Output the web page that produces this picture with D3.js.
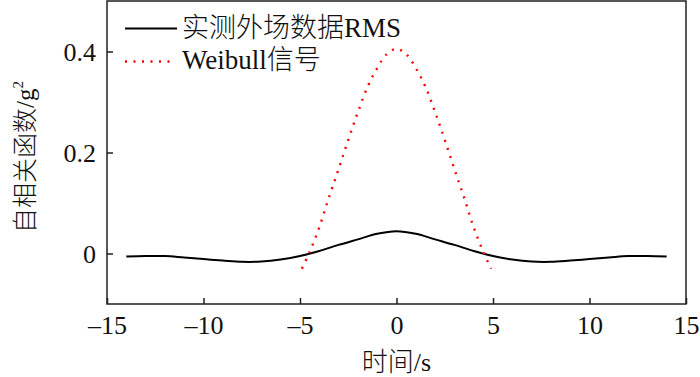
<!DOCTYPE html>
<html><head><meta charset="utf-8">
<script src="https://cdn.jsdelivr.net/npm/d3@7"></script>
<style>body{margin:0;background:#fff;} svg{display:block;}</style>
</head><body>
<svg id="c" width="700" height="377"></svg>
<script>
// Data
const rmsX = [-14,-13,-12,-11,-10,-9,-8,-7,-6,-5,-4,-3,-2,-1,0,1,2,3,4,5,6,7,8,9,10,11,12,13,14];
const rmsY = [-0.006,-0.005,-0.005,-0.008,-0.011,-0.014,-0.0165,-0.016,-0.012,-0.005,0.005,0.017,0.028,0.039,0.044,0.039,0.028,0.017,0.005,-0.005,-0.012,-0.016,-0.0165,-0.014,-0.011,-0.008,-0.005,-0.005,-0.006];
const weibullX = [-4.9,-4.5,-4,-3.5,-3,-2.5,-2,-1.5,-1,-0.5,0,0.5,1,1.5,2,2.5,3,3.5,4,4.5,4.9];
const weibullY = [-0.03,0.003,0.052,0.111,0.167,0.225,0.28,0.33,0.367,0.395,0.405,0.395,0.367,0.33,0.28,0.225,0.167,0.111,0.052,0.003,-0.03];
const xTicks = [-15,-10,-5,0,5,10,15];
const yTicks = [0,0.2,0.4];
const legendLabels = ["实测外场数据RMS","Weibull信号"];
const xTitle = "时间/s";
const yTitle = "自相关函数/g";

const svg = d3.select("#c");
const L=107, R=686, T=1, B=304;
const x = d3.scaleLinear().domain([-15,15]).range([L,R]);
const y = d3.scaleLinear().domain([-0.1,0.5]).range([B,T]);
const serif = "Liberation Serif, DejaVu Serif, serif";
const cjk = "Noto Sans CJK SC, sans-serif";
const axisColor = "#231f20";

// frame
svg.append("rect").attr("x",L).attr("y",T).attr("width",R-L).attr("height",B-T)
  .attr("fill","none").attr("stroke",axisColor).attr("stroke-width",1.5);

const xa = svg.append("g").attr("transform",`translate(0,${B})`)
  .call(d3.axisBottom(x).tickValues(xTicks).tickSizeInner(-6).tickSizeOuter(0).tickPadding(14)
    .tickFormat(d=> d<0 ? "\u2013"+Math.abs(d) : d));
const ya = svg.append("g").attr("transform",`translate(${L},0)`)
  .call(d3.axisLeft(y).tickValues(yTicks).tickSizeInner(-6).tickSizeOuter(0).tickPadding(11)
    .tickFormat(d=> d===0 ? "0" : d3.format(".1f")(d)));
[xa,ya].forEach(g=>{
  g.attr("font-family",null).attr("font-size",null);
  g.select(".domain").remove();
  g.selectAll(".tick line").attr("stroke",axisColor).attr("stroke-width",1.5);
  g.selectAll("text").attr("fill","#111").attr("font-family",serif).attr("font-size",26);
});
xa.selectAll("text").attr("dy",null).attr("y",30);
ya.selectAll("text").attr("dy","0.34em");

// lines
const line = d3.line().curve(d3.curveCatmullRom);
svg.append("path").attr("d", line(rmsX.map((d,i)=>[x(d),y(rmsY[i])])))
  .attr("fill","none").attr("stroke","#000").attr("stroke-width",2);
svg.append("path").attr("d", line(weibullX.map((d,i)=>[x(d),y(weibullY[i])])))
  .attr("fill","none").attr("stroke","#ff0000").attr("stroke-width",2.4).attr("stroke-dasharray","2,6.5");

// legend
const lg = svg.append("g");
lg.append("line").attr("x1",125).attr("x2",177).attr("y1",28.5).attr("y2",28.5).attr("stroke","#000").attr("stroke-width",2);
lg.append("line").attr("x1",125).attr("x2",172).attr("y1",61.5).attr("y2",61.5).attr("stroke","#ff0000").attr("stroke-width",2.4).attr("stroke-dasharray","2,6.5");
const t1 = lg.append("text").attr("x",182).attr("y",37).attr("font-size",27).attr("fill","#111");
t1.append("tspan").attr("font-family",cjk).attr("font-weight",300).text(legendLabels[0].slice(0,6));
t1.append("tspan").attr("font-family",serif).text(legendLabels[0].slice(6));
const t2 = lg.append("text").attr("x",182).attr("y",69).attr("font-size",27).attr("fill","#111");
t2.append("tspan").attr("font-family",serif).text(legendLabels[1].slice(0,7));
t2.append("tspan").attr("font-family",cjk).attr("font-weight",300).text(legendLabels[1].slice(7));

// axis titles
const xt = svg.append("text").attr("x",x(0)).attr("y",371).attr("text-anchor","middle").attr("font-size",26).attr("fill","#111");
xt.append("tspan").attr("font-family",cjk).attr("font-weight",300).text(xTitle.slice(0,2));
xt.append("tspan").attr("font-family",serif).text(xTitle.slice(2));
const yt = svg.append("text").attr("transform",`translate(34,157) rotate(-90)`).attr("text-anchor","middle").attr("font-size",25).attr("fill","#111");
yt.append("tspan").attr("font-family",cjk).attr("font-weight",300).text(yTitle.slice(0,5));
yt.append("tspan").attr("font-family",serif).text(yTitle.slice(5));
yt.append("tspan").attr("font-family",serif).attr("font-size",15).attr("dy",-11).text("2");
</script>
</body></html>
